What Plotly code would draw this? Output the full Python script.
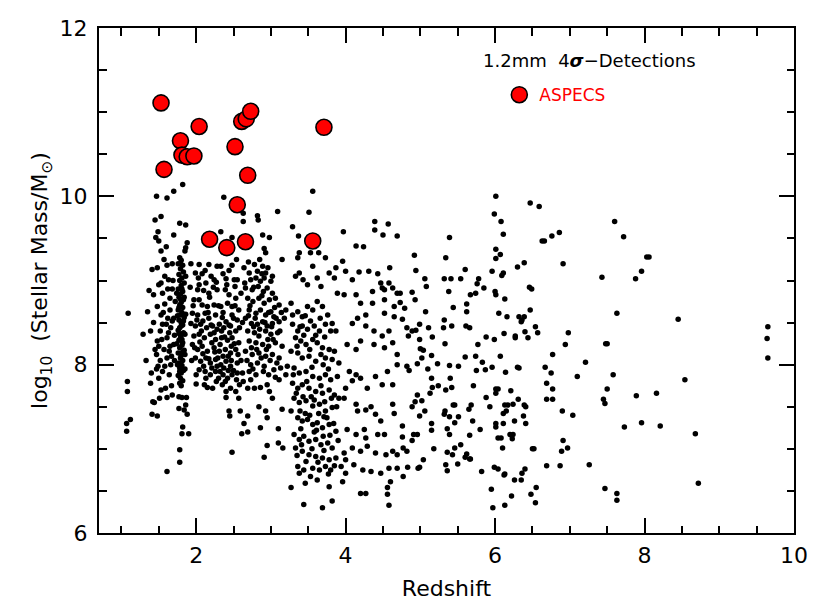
import plotly.graph_objects as go

# ---------------- data ----------------
# ASPECS 1.2mm 4-sigma detections (red)
aspecs_z = [1.53, 2.04, 1.79, 1.81, 1.88, 1.97, 1.57, 2.52, 2.61, 2.67, 2.73, 3.71,
            2.69, 2.55, 2.18, 2.41, 2.66, 3.56]
aspecs_m = [11.11, 10.83, 10.66, 10.49, 10.47, 10.48, 10.32, 10.59, 10.89, 10.92, 11.01, 10.82,
            10.25, 9.90, 9.49, 9.39, 9.46, 9.47]

# field galaxies (black), split by redshift region
field_low = [
    (1.09, 8.61), (1.08, 7.80), (1.08, 7.68), (1.07, 7.30), (1.12, 7.35), (1.07, 7.21),
    (1.29, 8.36), (1.33, 8.05), (1.35, 8.63), (1.37, 8.88), (1.39, 8.40), (1.40, 7.90),
    (1.39, 7.78), (1.41, 9.13), (1.43, 8.83), (1.41, 7.41), (1.42, 7.56), (1.44, 7.55),
    (1.48, 7.39), (1.46, 9.51), (1.45, 9.72), (1.47, 10.00), (1.49, 9.58), (1.50, 9.47),
    (1.53, 9.35), (1.53, 9.76), (1.48, 9.15), (1.50, 8.95), (1.53, 8.97), (1.55, 8.85),
    (1.48, 8.69), (1.53, 8.59), (1.55, 8.48), (1.48, 8.28), (1.50, 8.22), (1.54, 8.30),
    (1.47, 8.12), (1.52, 8.05), (1.49, 7.98), (1.55, 7.92), (1.50, 7.84), (1.53, 7.70),
    (1.51, 7.60), (1.61, 9.98), (1.61, 6.73), (1.61, 9.18), (1.63, 9.01), (1.65, 8.79),
    (1.65, 8.65), (1.66, 8.44), (1.61, 8.32), (1.64, 8.16), (1.61, 8.08), (1.66, 8.00),
    (1.64, 7.88), (1.59, 7.72), (1.61, 7.61), (1.68, 7.64), (1.70, 9.54), (1.70, 10.06),
    (1.69, 9.00), (1.70, 8.55), (1.70, 8.24), (1.67, 8.10), (1.82, 10.14), (1.78, 9.68),
    (1.86, 9.66), (1.88, 9.45), (1.86, 9.39), (1.85, 9.35), (1.77, 7.62), (1.81, 7.61),
    (1.87, 7.61), (1.86, 7.52), (1.77, 7.48), (1.84, 7.46), (1.88, 7.41), (1.82, 7.26),
    (1.81, 7.18), (1.90, 7.18), (1.78, 6.99), (1.78, 6.84), (1.58, 8.72), (1.62, 8.55),
    (1.57, 8.18), (1.63, 8.38), (1.68, 8.90), (1.58, 9.05), (1.43, 8.50), (1.45, 8.18),
    (1.47, 7.95), (1.52, 8.40), (1.56, 8.62), (1.58, 7.98), (1.60, 8.48), (1.62, 8.90),
    (1.65, 8.22), (1.67, 7.75), (1.68, 8.52), (1.71, 8.35), (1.72, 8.75), (1.71, 8.05),
    (1.57, 9.25), (1.60, 9.40), (1.68, 9.20),
]

field_column = [
    (1.78, 9.27), (1.80, 9.24), (1.76, 9.20), (1.82, 9.18), (1.79, 9.14), (1.83, 9.10),
    (1.77, 9.07), (1.81, 9.03), (1.78, 9.00), (1.84, 8.97), (1.80, 8.94), (1.76, 8.90),
    (1.82, 8.87), (1.79, 8.84), (1.77, 8.80), (1.83, 8.77), (1.80, 8.74), (1.78, 8.71),
    (1.82, 8.68), (1.76, 8.65), (1.81, 8.62), (1.79, 8.59), (1.84, 8.56), (1.77, 8.53),
    (1.80, 8.50), (1.82, 8.47), (1.78, 8.44), (1.76, 8.41), (1.83, 8.38), (1.80, 8.35),
    (1.79, 8.32), (1.77, 8.29), (1.82, 8.26), (1.81, 8.23), (1.78, 8.20), (1.84, 8.17),
    (1.76, 8.14), (1.80, 8.11), (1.79, 8.08), (1.82, 8.05), (1.77, 8.02), (1.81, 7.99),
    (1.78, 7.96), (1.83, 7.93), (1.80, 7.90), (1.76, 7.87), (1.79, 7.84), (1.82, 7.81),
    (1.78, 7.78), (1.80, 7.75), (1.84, 8.80), (1.75, 8.58), (1.85, 8.36), (1.75, 8.00),
    (1.85, 8.12), (1.86, 8.60), (1.74, 8.85), (1.86, 9.05), (1.74, 8.25), (1.85, 7.95),
    (1.79, 9.20), (1.81, 8.90), (1.77, 8.68), (1.80, 8.46), (1.82, 8.15), (1.78, 7.92),
    (1.81, 8.30), (1.79, 8.78), (1.83, 8.52), (1.77, 8.37),
]

field_z2 = [
    (1.93, 9.20), (2.04, 9.19), (2.17, 9.19), (2.28, 9.17), (2.33, 9.17), (2.48, 9.18),
    (2.33, 9.58), (2.48, 9.51), (2.37, 9.99), (2.54, 9.25), (2.63, 9.70), (2.63, 9.80),
    (1.99, 9.09), (2.08, 9.08), (2.04, 8.95), (2.13, 8.97), (2.24, 9.01), (2.40, 9.02),
    (2.51, 9.01), (2.55, 9.01), (2.02, 8.89), (2.17, 8.85), (2.28, 8.89), (2.39, 8.89),
    (2.44, 8.83), (2.53, 8.79), (1.97, 8.77), (2.04, 8.77), (2.08, 8.71), (2.15, 8.69),
    (2.24, 8.71), (2.33, 8.69), (2.42, 8.73), (2.48, 8.69), (2.57, 8.65), (1.95, 8.61),
    (2.02, 8.59), (2.12, 8.61), (2.17, 8.55), (2.26, 8.59), (2.35, 8.56), (2.40, 8.51),
    (2.48, 8.59), (2.55, 8.53), (1.93, 8.49), (1.99, 8.46), (2.06, 8.48), (2.14, 8.44),
    (2.22, 8.46), (2.28, 8.42), (2.37, 8.44), (2.46, 8.46), (2.53, 8.40), (1.97, 8.34),
    (2.04, 8.36), (2.11, 8.32), (2.19, 8.36), (2.26, 8.30), (2.34, 8.32), (2.42, 8.29),
    (2.48, 8.32), (2.57, 8.26), (1.95, 8.24), (2.02, 8.18), (2.08, 8.22), (2.15, 8.16),
    (2.24, 8.20), (2.31, 8.16), (2.39, 8.18), (2.46, 8.14), (2.53, 8.18), (1.99, 8.08),
    (2.06, 8.04), (2.13, 8.08), (2.19, 8.02), (2.26, 8.06), (2.33, 8.00), (2.40, 8.04),
    (2.46, 7.98), (2.55, 8.02), (2.04, 7.94), (2.12, 7.92), (2.19, 7.88), (2.26, 7.92),
    (2.30, 7.84), (2.36, 7.88), (2.42, 7.84), (2.48, 7.88), (2.54, 7.82), (2.00, 7.77),
    (2.11, 7.76), (2.15, 7.73), (2.22, 7.72), (2.35, 7.76), (2.40, 7.68), (2.46, 7.72),
    (2.53, 7.68), (2.40, 7.61), (2.44, 7.45), (2.45, 7.39), (2.48, 6.96), (2.61, 7.18),
    (2.69, 7.20), (2.64, 7.30), (2.69, 7.39), (2.59, 7.45), (2.57, 7.60), (2.09, 8.52),
    (2.21, 8.26), (2.31, 8.48), (2.37, 7.96), (2.43, 8.10), (2.18, 8.80), (2.29, 8.08),
    (2.50, 8.55), (1.98, 8.20), (2.10, 7.98), (2.34, 8.40), (2.27, 7.80), (2.45, 8.38),
    (1.92, 8.92), (1.96, 8.70), (2.01, 8.53), (2.07, 8.40), (2.10, 8.88), (2.16, 8.62),
    (2.20, 8.47), (2.23, 8.92), (2.25, 8.15), (2.30, 8.70), (2.32, 8.24), (2.36, 8.62),
    (2.38, 8.33), (2.41, 8.95), (2.44, 8.47), (2.47, 8.22), (2.50, 7.93), (2.52, 8.70),
    (2.56, 8.12), (2.58, 8.44), (1.94, 8.05), (2.00, 7.88), (2.05, 8.27), (2.09, 8.13),
    (2.13, 7.84), (2.17, 8.07), (2.21, 7.96), (2.24, 8.38), (2.28, 7.98), (2.32, 7.92),
    (2.36, 8.10), (2.39, 7.80), (2.43, 7.93), (2.47, 8.05), (2.51, 8.25), (2.55, 7.90),
    (2.58, 7.76), (2.03, 9.03), (2.12, 9.12), (2.20, 9.05), (2.27, 8.98), (2.36, 9.08),
    (2.44, 9.12), (2.52, 8.93), (2.60, 8.85), (2.62, 8.50), (2.60, 8.05), (2.63, 7.80),
]

field_z3 = [
    (2.82, 9.77), (2.83, 9.72), (2.89, 9.54), (2.98, 9.51), (2.91, 9.38), (2.93, 9.33),
    (3.09, 9.82), (3.15, 9.25), (2.64, 9.15), (2.71, 9.09), (2.78, 9.19), (2.82, 9.11),
    (2.89, 9.17), (2.93, 9.09), (2.73, 9.01), (2.80, 9.03), (2.86, 8.99), (2.91, 9.03),
    (3.00, 8.99), (2.66, 8.91), (2.75, 8.89), (2.83, 8.93), (2.90, 8.87), (2.95, 8.91),
    (3.02, 8.85), (2.69, 8.79), (2.76, 8.75), (2.84, 8.79), (2.91, 8.73), (2.98, 8.77),
    (3.06, 8.79), (3.11, 8.71), (2.71, 8.65), (2.80, 8.61), (2.86, 8.65), (2.93, 8.59),
    (3.00, 8.63), (3.04, 8.57), (2.66, 8.55), (2.74, 8.49), (2.82, 8.48), (2.89, 8.51),
    (2.95, 8.46), (3.02, 8.49), (3.11, 8.51), (3.18, 8.55), (2.69, 8.40), (2.78, 8.38),
    (2.84, 8.34), (2.93, 8.40), (3.00, 8.36), (3.09, 8.38), (2.71, 8.28), (2.80, 8.26),
    (2.89, 8.24), (2.97, 8.22), (3.06, 8.26), (3.15, 8.22), (2.66, 8.16), (2.75, 8.12),
    (2.84, 8.14), (2.93, 8.10), (3.02, 8.12), (3.11, 8.08), (2.73, 8.00), (2.82, 8.02),
    (2.91, 7.98), (3.04, 7.94), (3.13, 7.96), (2.62, 7.90), (2.71, 7.92), (2.80, 7.88),
    (2.73, 7.82), (2.69, 7.72), (2.78, 7.72), (2.86, 7.73), (2.95, 7.76), (2.98, 7.68),
    (3.02, 7.60), (2.84, 7.50), (2.93, 7.45), (2.95, 7.37), (2.86, 7.25), (3.10, 7.24),
    (3.15, 7.47), (2.95, 7.04), (2.91, 6.90), (3.10, 7.07), (3.16, 7.01), (3.11, 7.82),
    (3.20, 7.88), (2.77, 8.45), (2.88, 8.82), (2.96, 8.30), (2.72, 8.70), (3.05, 8.68),
    (2.65, 8.97), (2.70, 8.58), (2.74, 8.20), (2.77, 8.92), (2.79, 8.55), (2.81, 8.18),
    (2.85, 8.42), (2.87, 8.08), (2.88, 9.08), (2.92, 8.50), (2.94, 8.18), (2.97, 8.62),
    (2.99, 8.05), (3.01, 8.45), (3.03, 8.30), (3.07, 8.55), (3.08, 8.02), (3.12, 8.40),
    (3.14, 8.62), (2.68, 8.05), (2.76, 7.95), (2.90, 7.92), (2.97, 7.88), (3.06, 7.85),
    (2.70, 9.22), (2.85, 9.25), (2.96, 9.15), (3.02, 9.05),
]

field_z4 = [
    (3.29, 9.64), (3.37, 9.53), (3.51, 9.81), (3.56, 10.06), (3.38, 9.33), (3.36, 9.27),
    (3.53, 9.33), (3.64, 9.33), (3.73, 9.27), (3.97, 9.58), (3.96, 9.23),
    (3.20, 8.65), (3.27, 8.73), (3.33, 9.05), (3.38, 9.09), (3.43, 9.01), (3.49, 8.95),
    (3.56, 9.17), (3.62, 9.03), (3.67, 8.93), (3.78, 9.09), (3.87, 9.15), (3.85, 9.03),
    (3.89, 8.85), (3.29, 8.59), (3.36, 8.63), (3.42, 8.57), (3.49, 8.69), (3.56, 8.65),
    (3.62, 8.75), (3.69, 8.69), (3.76, 8.59), (3.82, 8.49), (3.87, 8.40), (3.29, 8.48),
    (3.36, 8.40), (3.42, 8.46), (3.49, 8.42), (3.58, 8.46), (3.65, 8.40), (3.73, 8.48),
    (3.33, 8.32), (3.40, 8.28), (3.47, 8.24), (3.56, 8.30), (3.62, 8.26), (3.69, 8.20),
    (3.78, 8.18), (3.85, 8.16), (3.27, 8.16), (3.36, 8.14), (3.42, 8.08), (3.51, 8.10),
    (3.60, 8.04), (3.67, 8.12), (3.73, 8.08), (3.82, 8.06), (3.91, 8.02), (3.22, 7.98),
    (3.31, 7.96), (3.38, 7.90), (3.47, 7.92), (3.56, 7.86), (3.65, 7.84), (3.73, 7.88),
    (3.80, 7.82), (3.89, 7.86), (3.29, 7.78), (3.36, 7.72), (3.42, 7.76), (3.51, 7.72),
    (3.60, 7.68), (3.69, 7.66), (3.78, 7.70), (3.85, 7.64), (3.91, 7.60), (3.31, 7.60),
    (3.38, 7.55), (3.47, 7.57), (3.56, 7.51), (3.65, 7.53), (3.73, 7.45), (3.82, 7.49),
    (3.27, 7.45), (3.36, 7.37), (3.42, 7.33), (3.49, 7.35), (3.56, 7.29), (3.62, 7.31),
    (3.69, 7.25), (3.78, 7.29), (3.87, 7.21), (3.31, 7.17), (3.38, 7.11), (3.44, 7.15),
    (3.51, 7.09), (3.60, 7.11), (3.67, 7.05), (3.76, 7.07), (3.82, 7.01), (3.33, 7.01),
    (3.42, 6.97), (3.51, 6.93), (3.60, 6.91), (3.69, 6.89), (3.78, 6.87), (3.87, 6.89),
    (3.36, 6.79), (3.44, 6.75), (3.56, 6.77), (3.65, 6.75), (3.73, 6.79), (3.80, 6.75),
    (3.53, 6.67), (3.62, 6.63), (3.78, 6.55), (3.82, 6.38), (3.44, 6.34), (3.69, 6.30),
    (3.27, 6.54), (3.46, 6.59), (3.38, 6.71), (3.94, 6.79), (3.98, 6.95), (4.00, 6.71),
    (3.96, 6.61), (3.46, 7.42), (3.58, 7.20), (3.71, 7.38), (3.40, 7.24), (3.54, 7.62),
    (3.30, 7.88), (3.34, 7.66), (3.39, 7.45), (3.43, 7.62), (3.48, 7.80), (3.52, 7.40),
    (3.55, 7.97), (3.58, 7.58), (3.61, 7.22), (3.64, 7.42), (3.67, 7.75), (3.70, 7.15),
    (3.72, 7.56), (3.75, 7.37), (3.79, 7.16), (3.81, 7.60), (3.84, 7.30), (3.88, 7.50),
    (3.35, 6.92), (3.41, 7.05), (3.47, 6.85), (3.55, 7.00), (3.63, 6.84), (3.71, 6.98),
    (3.77, 6.70), (3.85, 6.80), (3.90, 7.10), (3.39, 8.45), (3.46, 8.58), (3.53, 8.52),
    (3.60, 8.35), (3.66, 8.55), (3.72, 8.33), (3.80, 8.40), (3.35, 8.22), (3.44, 8.35),
    (3.52, 8.18), (3.70, 8.00), (3.77, 7.95),
]

field_z5 = [
    (4.14, 9.41), (4.24, 9.40), (4.39, 9.70), (4.39, 9.60), (4.50, 9.54), (4.57, 9.67),
    (4.69, 9.53), (4.59, 9.15), (4.43, 9.08), (4.18, 9.10), (4.47, 8.97), (4.58, 8.97),
    (4.52, 8.89), (4.69, 8.85), (4.00, 9.11), (4.09, 9.01), (3.98, 8.83), (4.14, 8.83),
    (4.20, 8.73), (4.27, 8.59), (4.16, 8.55), (4.09, 8.49), (4.27, 8.46), (4.38, 8.40),
    (4.49, 8.34), (4.58, 8.40), (4.52, 8.61), (4.65, 8.57), (4.36, 8.87), (4.36, 8.73),
    (4.49, 8.91), (4.63, 8.91), (4.63, 8.26), (4.52, 8.20), (4.38, 8.24), (4.20, 8.28),
    (4.02, 8.24), (4.14, 8.18), (4.69, 8.12), (4.05, 7.92), (4.14, 7.88), (4.09, 7.81),
    (4.20, 7.84), (4.29, 7.72), (4.40, 7.86), (4.49, 7.76), (4.56, 7.92), (4.63, 7.76),
    (4.69, 8.00), (4.00, 7.72), (3.98, 7.60), (4.14, 7.53), (4.16, 7.45), (4.27, 7.46),
    (4.34, 7.50), (4.40, 7.41), (4.47, 7.33), (4.63, 7.53), (4.65, 7.42), (4.02, 7.23),
    (4.14, 7.17), (4.25, 7.23), (4.27, 7.13), (4.43, 7.17), (4.52, 7.17), (4.09, 7.01),
    (4.20, 6.97), (4.29, 7.03), (4.40, 6.95), (4.54, 6.93), (4.63, 6.97), (4.69, 6.93),
    (4.00, 6.87), (4.11, 6.81), (4.23, 6.75), (4.34, 6.73), (4.47, 6.71), (4.58, 6.77),
    (4.69, 6.77), (4.20, 6.47), (4.27, 6.47), (4.56, 6.54), (4.56, 6.46), (4.58, 6.33),
    (4.60, 6.61), (4.52, 8.77), (4.65, 8.69), (4.31, 9.11),
]

field_z6 = [
    (4.92, 9.30), (4.94, 9.12), (5.06, 9.02), (5.08, 8.93), (4.89, 8.86), (4.93, 8.77),
    (4.79, 8.67), (4.76, 8.54), (4.73, 8.85), (4.73, 8.74), (5.07, 8.63), (4.99, 8.48),
    (5.11, 8.44), (4.82, 8.44), (4.89, 8.40), (4.94, 8.41), (4.84, 8.34), (4.99, 8.30),
    (5.16, 8.33), (5.00, 8.19), (5.04, 8.17), (5.02, 8.08), (4.96, 8.01), (4.82, 7.98),
    (4.85, 7.93), (5.15, 8.11), (5.10, 7.95), (5.23, 8.01), (5.15, 7.84), (5.24, 7.75),
    (5.16, 7.73), (5.13, 7.66), (5.34, 9.27), (5.39, 9.51), (5.32, 9.02), (5.41, 9.02),
    (5.38, 8.87), (5.44, 8.68), (5.32, 8.53), (5.31, 8.44), (5.42, 8.46), (5.33, 8.25),
    (5.39, 7.99), (5.51, 7.98), (5.40, 7.84), (5.42, 7.73), (5.34, 7.70), (5.54, 9.02),
    (5.60, 9.13), (5.62, 8.72), (5.62, 8.63), (5.61, 8.46), (5.66, 8.44), (5.60, 8.09),
    (5.71, 7.75), (5.67, 8.83), (5.74, 8.85), (5.76, 8.96), (5.78, 9.02), (5.85, 8.91),
    (5.77, 8.24), (5.74, 8.10), (5.83, 8.03), (5.88, 8.33), (5.75, 7.93), (5.87, 7.94),
    (4.91, 7.17), (4.89, 7.10), (4.96, 7.17), (4.77, 7.01), (4.82, 6.97), (4.76, 7.14),
    (4.76, 7.27), (4.83, 6.78), (4.97, 6.77), (4.99, 6.78), (5.04, 6.87), (4.77, 6.67),
    (4.99, 7.39), (5.02, 7.57), (4.89, 7.50), (4.93, 7.56), (5.06, 7.45), (4.96, 7.64),
    (5.18, 7.00), (5.15, 7.30), (5.15, 7.22), (5.33, 7.45), (5.32, 7.41), (5.39, 7.38),
    (5.36, 7.24), (5.39, 7.17), (5.46, 7.31), (5.51, 7.38), (5.44, 7.52), (5.46, 7.52),
    (5.36, 6.96), (5.43, 6.93), (5.46, 7.01), (5.54, 7.05), (5.34, 6.81), (5.36, 6.74),
    (5.50, 6.82), (5.62, 6.94), (5.66, 6.88), (5.67, 6.88), (5.60, 6.90), (5.66, 7.16),
    (5.70, 7.33), (5.65, 7.47), (5.68, 7.52), (5.80, 7.23), (5.82, 6.73), (5.88, 7.61),
    (5.93, 7.50),
]

field_z7 = [
    (5.99, 8.30), (5.96, 7.97), (6.07, 8.10), (5.96, 9.11), (6.01, 10.00), (5.99, 9.79),
    (6.08, 9.70), (6.11, 9.55), (6.01, 9.37), (6.01, 9.26), (6.07, 9.31), (6.09, 9.06),
    (6.11, 9.09), (6.00, 8.87), (6.01, 8.83), (6.13, 8.78), (6.05, 8.61), (6.16, 8.57),
    (6.12, 8.37), (6.27, 8.32), (6.27, 8.34), (6.14, 7.91), (6.30, 7.97), (6.32, 7.96),
    (6.30, 9.16), (6.39, 9.21), (6.46, 8.92), (6.49, 8.90), (6.47, 8.65), (6.32, 8.57),
    (6.36, 8.53), (6.39, 8.57), (6.35, 8.51), (6.40, 8.39), (6.44, 8.32), (6.54, 8.45),
    (6.57, 8.38), (6.47, 9.92), (6.59, 9.88), (6.63, 9.47), (6.66, 9.47), (6.76, 9.53),
    (6.86, 9.57), (6.91, 9.20), (6.98, 8.38), (6.94, 8.24), (6.77, 8.12), (6.67, 7.97),
    (6.75, 7.90), (6.69, 7.78), (6.77, 7.71), (6.69, 7.59), (6.77, 7.59), (6.90, 7.45),
    (7.04, 7.40), (7.10, 7.86), (7.21, 8.03), (6.01, 7.71), (6.04, 7.71), (6.01, 7.66),
    (6.01, 7.30), (6.01, 7.26), (6.11, 7.30), (6.04, 7.13), (6.08, 7.13), (6.10, 7.01),
    (6.13, 7.52), (6.17, 7.52), (6.15, 7.45), (6.11, 7.42), (6.21, 7.69), (6.24, 7.53),
    (6.26, 7.33), (6.20, 7.17), (6.24, 7.17), (6.23, 7.12), (6.31, 7.59), (6.39, 7.52),
    (6.41, 7.50), (6.38, 7.39), (6.41, 7.30), (5.99, 6.78), (6.04, 6.76), (6.13, 6.70),
    (6.12, 6.69), (5.95, 6.52), (5.97, 6.30), (6.13, 6.33), (6.22, 6.44), (6.26, 6.63),
    (6.35, 6.63), (6.36, 6.71), (6.40, 6.76), (6.48, 6.46), (6.55, 6.54), (6.54, 6.36),
    (6.50, 7.00), (6.52, 7.00), (6.69, 6.80), (6.87, 6.80), (6.89, 6.97), (6.91, 7.10),
    (6.97, 7.01),
]

field_high = [
    (7.26, 6.81), (7.47, 6.53), (7.63, 6.47), (7.63, 6.39), (7.43, 9.04), (7.48, 8.25),
    (7.50, 8.25), (7.60, 9.70), (7.72, 9.52), (7.63, 8.61), (7.58, 7.88), (7.50, 7.71),
    (7.45, 7.59), (7.47, 7.54), (7.88, 9.02), (7.96, 9.11), (8.03, 9.28), (8.06, 9.28),
    (7.89, 7.63), (8.16, 7.66), (7.73, 7.26), (7.96, 7.31), (8.21, 7.27), (8.45, 8.54),
    (8.54, 7.82), (8.68, 7.18), (8.72, 6.59), (9.65, 8.45), (9.64, 8.31), (9.65, 8.08),
]

field_all = (field_low + field_column + field_z2 + field_z3 + field_z4 +
             field_z5 + field_z6 + field_z7 + field_high)
field_z = [p[0] for p in field_all]
field_m = [p[1] for p in field_all]

x_range = [0.7, 10]
y_range = [6, 12]

FONT = "DejaVu Sans"

fig = go.Figure()
fig.add_trace(go.Scatter(
    x=field_z, y=field_m, mode="markers", showlegend=False,
    marker=dict(color="black", size=5.5, line=dict(width=0)),
))
fig.add_trace(go.Scatter(
    x=aspecs_z, y=aspecs_m, mode="markers", name="ASPECS",
    marker=dict(color="#ff0000", size=16, line=dict(color="black", width=1.6)),
))

axis_common = dict(
    showgrid=False, zeroline=False, showline=True, linecolor="black", linewidth=2,
    mirror="ticks", ticks="inside", ticklen=15, tickwidth=1.6, tickcolor="black",
    tickmode="linear", tick0=0, dtick=2, automargin=False,
    tickfont=dict(family=FONT, size=22, color="black"),
    minor=dict(ticks="inside", ticklen=7.5, tickwidth=1.6, tickcolor="black",
               tickmode="linear", tick0=0, dtick=0.5, showgrid=False),
)

fig.update_layout(
    width=830, height=609,
    margin=dict(l=91, r=44, t=20, b=84),
    paper_bgcolor="white", plot_bgcolor="white",
    font=dict(family=FONT, color="black"),
    xaxis=dict(range=x_range, title=dict(text="Redshift", font=dict(size=22), standoff=13),
               ticklabelstandoff=2, **axis_common),
    yaxis=dict(range=y_range,
               title=dict(text="log<sub>10</sub>  (Stellar Mass/M<sub>⊙</sub>)",
                          font=dict(size=22), standoff=6),
               ticklabelstandoff=5, **axis_common),
    legend=dict(
        x=0.576, y=0.867, xanchor="left", yanchor="middle",
        bgcolor="rgba(0,0,0,0)",
        font=dict(family=FONT, size=17, color="#ff0000"),
        itemsizing="trace",
    ),
    annotations=[dict(
        text="1.2mm  4<b><i>σ</i></b>−Detections", xref="paper", yref="paper",
        x=0.706, y=0.935, xanchor="center", yanchor="middle", showarrow=False,
        font=dict(family=FONT, size=18, color="black"),
    )],
)

fig.write_html("out.html")
